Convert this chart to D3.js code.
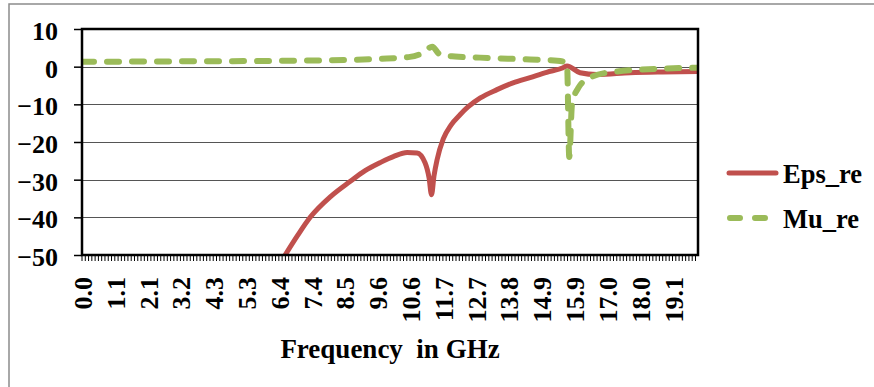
<!DOCTYPE html>
<html>
<head>
<meta charset="utf-8">
<script src="https://d3js.org/d3.v7.min.js"></script>
<style>
  html, body { margin: 0; padding: 0; background: #fff; }
  svg { display: block; }
  text { font-family: "Liberation Serif", "Times New Roman", serif; font-weight: bold; fill: #000; }
</style>
</head>
<body>
<svg id="chart" width="874" height="387"></svg>
<script>
// ── Daten ────────────────────────────────────────────
const xTickLabels = ['0.0','1.1','2.1','3.2','4.3','5.3','6.4','7.4','8.5','9.6',
                     '10.6','11.7','12.7','13.8','14.9','15.9','17.0','18.0','19.1'];
const xTickStep = 1.0625;
const yTicks = [10, 0, -10, -20, -30, -40, -50];

const epsFreq = [6.37, 6.58, 7.0, 7.39, 8.05, 8.68, 9.17, 9.65, 10.10, 10.53, 10.85, 11.11, 11.24, 11.32,
                 11.40, 11.50, 11.70, 11.95, 12.25, 12.50, 12.90, 13.44, 13.96, 14.51, 15.05, 15.58, 15.71,
                 16.13, 16.68, 17.75, 18.80, 19.95];
const epsRe   = [-52.8, -50, -44.6, -40, -34.5, -30.5, -27.6, -25.5, -23.8, -22.8, -22.9, -25.5, -29.5, -34,
                 -29, -24.7, -19.2, -15.5, -12.7, -10.7, -8.3, -6.1, -4.3, -2.9, -1.5, -0.3, 0.2,
                 -1.6, -2.1, -1.6, -1.4, -1.3];

const muFreq = [0, 3.0, 7.06, 9.65, 10.62, 11.05, 11.34, 11.60, 12.08, 12.89, 14.51, 15.39,
                15.68, 15.71, 15.78, 15.87, 16.10, 16.36, 17.01, 18.82, 19.95];
const muRe   = [1.3, 1.4, 1.6, 2.1, 2.6, 3.7, 5.3, 3.2, 2.7, 2.4, 1.9, 1.6,
                1.1, 0.5, -24, -10, -5.3, -3.4, -1.6, -0.5, -0.3];

const series = [
  { name: 'Eps_re', x: epsFreq, y: epsRe, color: '#C0504D', dash: null },
  { name: 'Mu_re',  x: muFreq,  y: muRe,  color: '#9BBB59', dash: '12,13' }
];

// ── Layout ───────────────────────────────────────────
const svg = d3.select('#chart');
const plot = { left: 82, right: 698, top: 29, bottom: 255 };

// äußerer Rahmen (läuft rechts/unten aus dem Bild)
svg.append('rect')
  .attr('x', 9).attr('y', 4).attr('width', 900).attr('height', 420)
  .attr('fill', '#fff').attr('stroke', '#8c8c8c').attr('stroke-width', 1.5);

const x = d3.scaleLinear().domain([0, 19.95]).range([plot.left, plot.right]);
const y = d3.scaleLinear().domain([-50, 10]).range([plot.bottom, plot.top]);

// Gitterlinien
svg.append('g').selectAll('line')
  .data(yTicks.filter(v => v > -50 && v < 10)).join('line')
    .attr('x1', plot.left).attr('x2', plot.right)
    .attr('y1', d => Math.round(y(d)) + 0.5).attr('y2', d => Math.round(y(d)) + 0.5)
    .attr('stroke', '#555').attr('stroke-width', 1);

// Y-Achse
const yAxis = svg.append('g')
  .attr('transform', `translate(${plot.left},0)`)
  .call(d3.axisLeft(y).tickValues(yTicks).tickSize(8).tickPadding(16).tickFormat(d3.format('d')));
yAxis.select('.domain').remove();
yAxis.selectAll('line').attr('stroke', '#000').attr('stroke-width', 1.5);
yAxis.selectAll('text')
  .attr('font-size', 26).attr('font-family', '"Liberation Serif", serif').attr('font-weight', 'bold')
  .attr('dy', '0.4em');

// X-Achse: kleine Striche + Beschriftung
const minorTicks = d3.range(0, 19.96, xTickStep / 10);
svg.append('g').selectAll('line')
  .data(minorTicks).join('line')
    .attr('x1', d => x(d)).attr('x2', d => x(d))
    .attr('y1', plot.bottom).attr('y2', plot.bottom + 6)
    .attr('stroke', '#000').attr('stroke-width', 1);

svg.append('g').selectAll('text')
  .data(xTickLabels).join('text')
    .attr('transform', (d, i) => `translate(${x(i * xTickStep) + 10},277) rotate(-90)`)
    .attr('text-anchor', 'end')
    .attr('font-size', 26)
    .text(d => d);

// Linien
const clip = svg.append('defs').append('clipPath').attr('id', 'plotclip');
clip.append('rect')
  .attr('x', plot.left).attr('y', plot.top)
  .attr('width', plot.right - plot.left).attr('height', plot.bottom - plot.top);

const line = d3.line().curve(d3.curveMonotoneX);
const lines = svg.append('g').attr('clip-path', 'url(#plotclip)');
series.forEach(s => {
  lines.append('path')
    .attr('d', line(s.x.map((v, i) => [x(v), y(s.y[i])])))
    .attr('fill', 'none')
    .attr('stroke', s.color)
    .attr('stroke-width', s.dash ? 6 : 5)
    .attr('stroke-linecap', 'round')
    .attr('stroke-linejoin', 'round')
    .attr('stroke-dasharray', s.dash);
});

// Plotrahmen
svg.append('rect')
  .attr('x', plot.left).attr('y', plot.top)
  .attr('width', plot.right - plot.left).attr('height', plot.bottom - plot.top)
  .attr('fill', 'none').attr('stroke', '#000').attr('stroke-width', 2.5);

// Achsentitel
svg.append('text')
  .attr('x', (plot.left + plot.right) / 2).attr('y', 358)
  .attr('text-anchor', 'middle')
  .attr('font-size', 27)
  .style('white-space', 'pre')
  .text('Frequency  in GHz');

// Legende
const legend = svg.append('g');
series.forEach((s, i) => {
  const ly = 173 + i * 45;
  legend.append('line')
    .attr('x1', s.dash ? 730 : 729).attr('x2', s.dash ? 770 : 776)
    .attr('y1', ly).attr('y2', ly)
    .attr('stroke', s.color)
    .attr('stroke-width', s.dash ? 6 : 5)
    .attr('stroke-linecap', 'round')
    .attr('stroke-dasharray', s.dash ? '10,15' : null);
  legend.append('text')
    .attr('x', 783).attr('y', ly + 10)
    .attr('font-size', 26.5)
    .text(s.name);
});
</script>
</body>
</html>
